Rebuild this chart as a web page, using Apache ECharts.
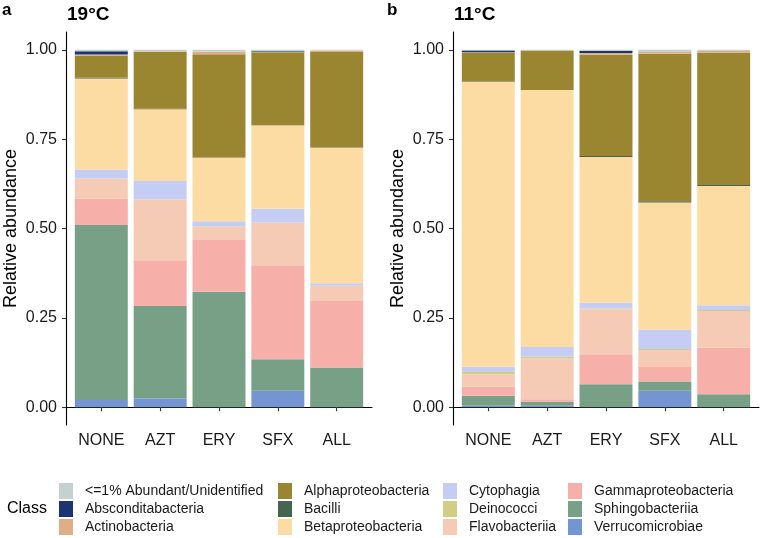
<!DOCTYPE html>
<html>
<head>
<meta charset="utf-8">
<script src="https://cdn.jsdelivr.net/npm/echarts@6/dist/echarts.min.js"></script>
<style>
html,body{margin:0;padding:0;background:#fff;}
#chart{width:760px;height:538px;}
</style>
</head>
<body>
<div id="chart"></div>
<script>
// ---- data ----
const treatments = ["NONE", "AZT", "ERY", "SFX", "ALL"];
const classNames = [
  "<=1% Abundant/Unidentified", "Absconditabacteria", "Actinobacteria",
  "Alphaproteobacteria", "Bacilli", "Betaproteobacteria",
  "Cytophagia", "Deinococci", "Flavobacteriia",
  "Gammaproteobacteria", "Sphingobacteriia", "Verrucomicrobiae"
];
const yTicks = [0, 0.25, 0.5, 0.75, 1];

// 19°C panel (a), values per treatment NONE, AZT, ERY, SFX, ALL
const a_minor   = [0.004, 0.004, 0.005, 0.004, 0.002];
const a_abscon  = [0.009, 0.000, 0.000, 0.002, 0.000];
const a_actino  = [0.003, 0.001, 0.007, 0.001, 0.004];
const a_alpha   = [0.062, 0.160, 0.289, 0.203, 0.267];
const a_bacilli = [0.002, 0.001, 0.001, 0.001, 0.001];
const a_beta    = [0.255, 0.201, 0.178, 0.234, 0.379];
const a_cyto    = [0.025, 0.051, 0.014, 0.038, 0.007];
const a_deino   = [0.001, 0.000, 0.001, 0.001, 0.001];
const a_flavo   = [0.056, 0.171, 0.037, 0.119, 0.042];
const a_gamma   = [0.073, 0.128, 0.145, 0.263, 0.186];
const a_sphingo = [0.490, 0.259, 0.323, 0.088, 0.111];
const a_verruco = [0.020, 0.024, 0.000, 0.046, 0.000];

// 11°C panel (b)
const b_minor   = [0.002, 0.002, 0.003, 0.006, 0.003];
const b_abscon  = [0.005, 0.000, 0.006, 0.000, 0.000];
const b_actino  = [0.001, 0.000, 0.005, 0.005, 0.005];
const b_alpha   = [0.080, 0.110, 0.283, 0.413, 0.370];
const b_bacilli = [0.001, 0.000, 0.003, 0.003, 0.003];
const b_beta    = [0.798, 0.720, 0.408, 0.356, 0.334];
const b_cyto    = [0.015, 0.027, 0.016, 0.054, 0.013];
const b_deino   = [0.006, 0.005, 0.002, 0.003, 0.003];
const b_flavo   = [0.035, 0.114, 0.126, 0.048, 0.103];
const b_gamma   = [0.025, 0.007, 0.084, 0.040, 0.130];
const b_sphingo = [0.028, 0.011, 0.064, 0.026, 0.036];
const b_verruco = [0.004, 0.004, 0.000, 0.046, 0.000];

const panelA = [a_minor, a_abscon, a_actino, a_alpha, a_bacilli, a_beta, a_cyto, a_deino, a_flavo, a_gamma, a_sphingo, a_verruco];
const panelB = [b_minor, b_abscon, b_actino, b_alpha, b_bacilli, b_beta, b_cyto, b_deino, b_flavo, b_gamma, b_sphingo, b_verruco];

const classColors = [
  "#c5d0d0", "#1c3570", "#dfae87", "#9a8630", "#456452", "#fddca3",
  "#c5cdf5", "#d0ce82", "#f6cbb5", "#f7afa9", "#77a087", "#7595d2"
];

// ---- chart ----
const FONT = "Liberation Sans, Arial, Helvetica, sans-serif";
const chart = echarts.init(document.getElementById('chart'), null, {renderer: 'canvas'});

// panel frame geometry (ggplot-like: 0.6 category expansion on each side)
const panelLeft = [66, 453];
const panelWidth = 306;
const band = panelWidth / 5.2;
const gridTop = 32, gridHeight = 393;

const grids = [];
// bar grids (0,1) - inner, categories only
panelLeft.forEach(l => grids.push({left: l + 0.6 * band - 0.5 * band, top: gridTop, width: 5 * band, height: gridHeight}));
// frame grids (2,3) - full panel, axis lines
panelLeft.forEach(l => grids.push({left: l, top: gridTop, width: panelWidth, height: gridHeight}));

const xAxes = [], yAxes = [];
[0, 1].forEach(gi => {
  xAxes.push({
    type: 'category', gridIndex: gi, data: treatments,
    axisLine: {show: false},
    axisTick: {show: true, interval: 0, alignWithLabel: true, length: 4, lineStyle: {color: '#333', width: 1.1}},
    axisLabel: {interval: 0, hideOverlap: false, fontFamily: FONT, fontSize: 16, color: '#1a1a1a', margin: 8}
  });
  yAxes.push({type: 'value', gridIndex: gi, min: -0.05, max: 1.05, show: false});
});
[2, 3].forEach(gi => {
  xAxes.push({
    type: 'value', gridIndex: gi, min: 0, max: 1,
    splitLine: {show: false}, axisTick: {show: false}, axisLabel: {show: false},
    axisLine: {show: true, lineStyle: {color: '#000', width: 1.1}}
  });
  yAxes.push({
    type: 'value', gridIndex: gi, min: -0.05, max: 1.05,
    splitLine: {show: false},
    axisLine: {show: true, lineStyle: {color: '#000', width: 1.1}},
    axisTick: {show: true, length: 4, customValues: yTicks, lineStyle: {color: '#333', width: 1.1}},
    axisLabel: {customValues: yTicks, formatter: v => v.toFixed(2),
      fontFamily: FONT, fontSize: 16, color: '#1a1a1a', margin: 9},
    name: 'Relative abundance', nameLocation: 'middle', nameGap: 46,
    nameTextStyle: {fontFamily: FONT, fontSize: 18, color: '#000'}
  });
});

const series = [];
[panelA, panelB].forEach((panel, gi) => {
  for (let k = classNames.length - 1; k >= 0; k--) {
    series.push({
      type: 'bar', name: classNames[k], stack: 'p' + gi,
      xAxisIndex: gi, yAxisIndex: gi, barWidth: '90%',
      itemStyle: {color: classColors[k]},
      emphasis: {disabled: true},
      data: panel[k]
    });
  }
});

function legendCol(idx, left) {
  return {
    data: classNames.slice(idx, idx + 3), orient: 'vertical', left: left, top: 483,
    itemWidth: 14, itemHeight: 16, itemGap: 2, icon: 'rect', selectedMode: false,
    padding: 0,
    textStyle: {fontFamily: FONT, fontSize: 14, color: '#1a1a1a', padding: [0, 0, 0, 7]}
  };
}

chart.setOption({
  animation: false,
  backgroundColor: '#fff',
  grid: grids,
  xAxis: xAxes,
  yAxis: yAxes,
  legend: [legendCol(0, 59), legendCol(3, 278), legendCol(6, 443), legendCol(9, 568)],
  graphic: [
    {type: 'text', left: 2, top: 2, style: {text: 'a', font: 'bold 17px ' + FONT, fill: '#000'}},
    {type: 'text', left: 67, top: 5, style: {text: '19°C', font: 'bold 19px ' + FONT, fill: '#000'}},
    {type: 'text', left: 387, top: 2, style: {text: 'b', font: 'bold 17px ' + FONT, fill: '#000'}},
    {type: 'text', left: 454, top: 5, style: {text: '11°C', font: 'bold 19px ' + FONT, fill: '#000'}},
    {type: 'text', left: 7, top: 501, style: {text: 'Class', font: '16px ' + FONT, fill: '#000'}}
  ],
  series: series
});
</script>
</body>
</html>
